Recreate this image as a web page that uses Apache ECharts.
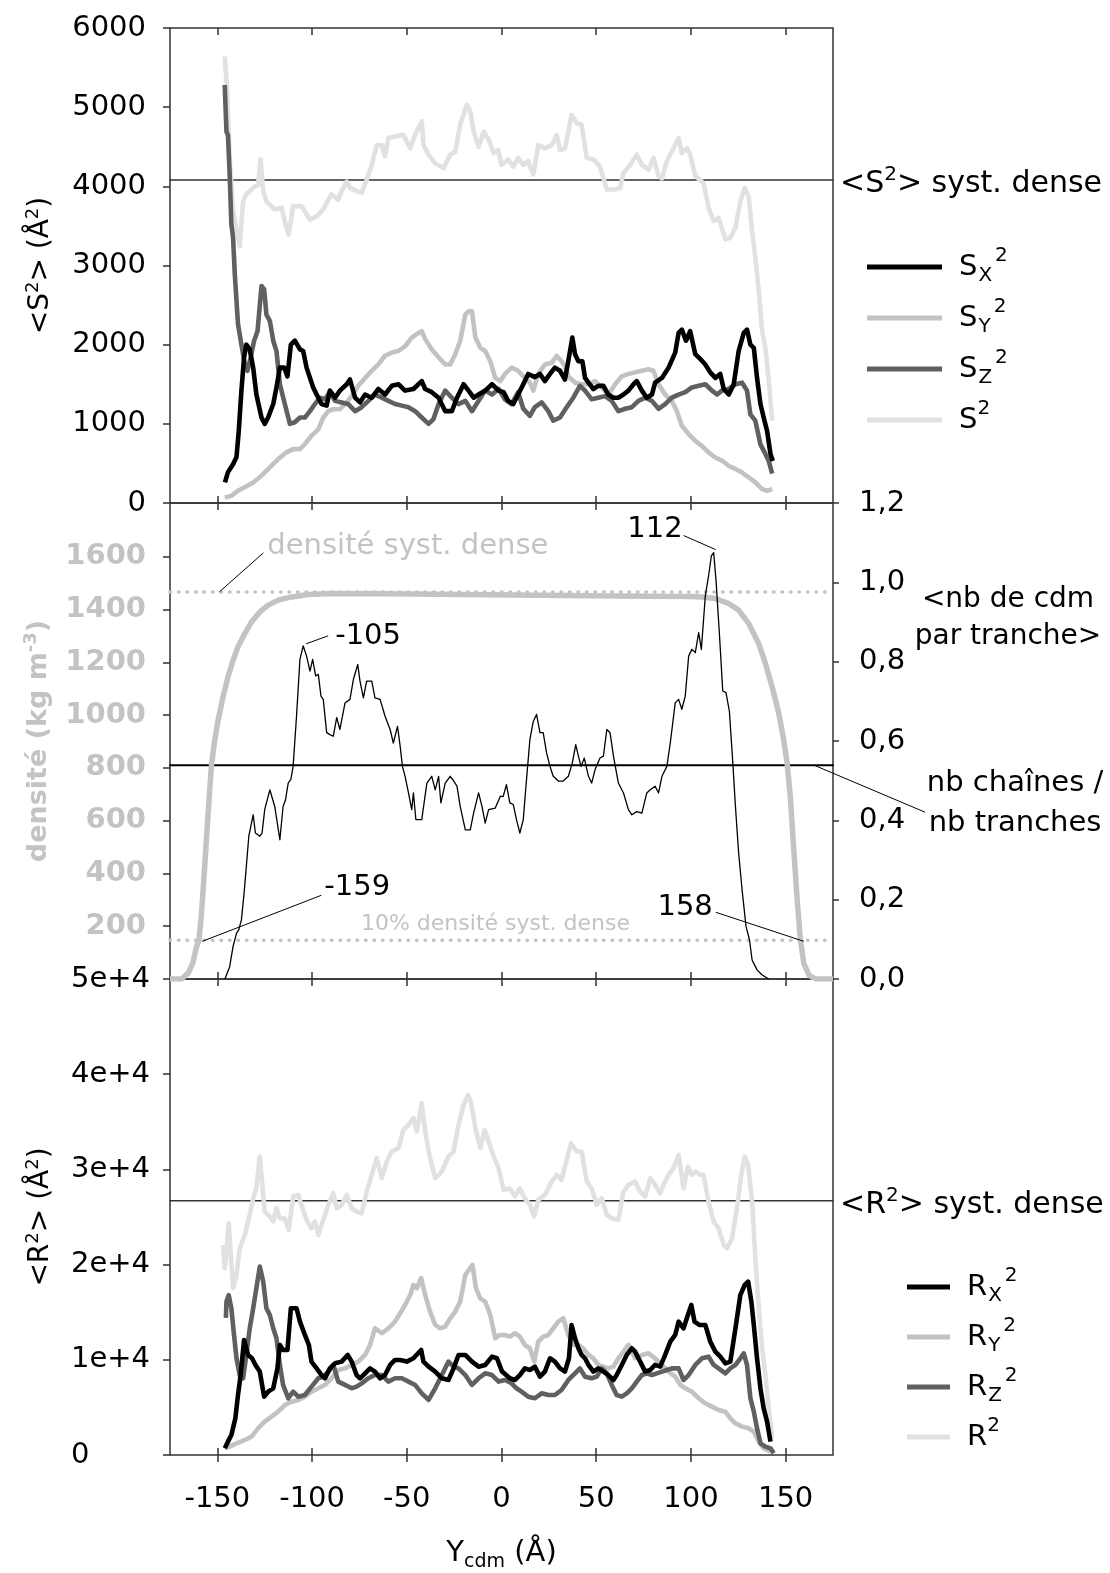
<!DOCTYPE html>
<html>
<head>
<meta charset="utf-8">
<script src="https://cdn.jsdelivr.net/npm/echarts@6/dist/echarts.min.js"></script>
<style>
html,body{margin:0;padding:0;background:#fff;}
#chart{width:1110px;height:1573px;}
</style>
</head>
<body>
<div id="chart"></div>
<script>
// valeurs
var xTicks = [-150, -100, -50, 0, 50, 100, 150];
var densTicks = [200, 400, 600, 800, 1000, 1200, 1400, 1600];
var s2Dense = 4080;
var r2Dense = 26700;
var densDense = 1467;
var dens10 = 146.7;
var chainesParTranche = 0.539;

// <S2> (A^2)
var sX2 = [[-146,260],[-144.4,390],[-141.7,490],[-139.9,580],[-138.7,910],[-137.3,1420],[-135.9,1840],[-134.7,2000],[-132.9,1940],[-131.1,1710],[-129.4,1370],[-126.7,1080],[-125,1000],[-123.2,1080],[-120.5,1250],[-118.8,1460],[-117,1710],[-114.7,1710],[-113,1600],[-111.2,2000],[-109.1,2050],[-106.4,1940],[-104.7,1920],[-102.9,1710],[-101.1,1580],[-99.4,1460],[-97.6,1370],[-95,1250],[-92.3,1230],[-90.6,1420],[-87.9,1330],[-85.3,1420],[-81.7,1500],[-80,1560],[-77.3,1330],[-74.7,1270],[-72,1370],[-68.5,1330],[-65,1440],[-61.5,1370],[-57.9,1480],[-54.4,1500],[-50.9,1420],[-46.5,1440],[-42.1,1540],[-40.3,1440],[-36.8,1400],[-33.2,1330],[-29.7,1160],[-26.2,1160],[-23.5,1330],[-20,1500],[-17.4,1420],[-14.7,1330],[-12.1,1370],[-8.6,1420],[-5,1500],[-1.5,1420],[1.1,1400],[3.5,1290],[6.2,1250],[8.8,1370],[11.5,1500],[14.1,1630],[17.6,1590],[20.3,1630],[22.9,1540],[25.6,1630],[28.2,1710],[30.9,1670],[33.5,1560],[35.6,1840],[37.4,2090],[38.8,1880],[40.6,1790],[42.7,1790],[44.1,1580],[45.9,1520],[48.5,1440],[51.1,1480],[53.8,1480],[56.4,1370],[59.1,1330],[61.7,1330],[64.4,1370],[67,1420],[69.7,1500],[71.4,1540],[74.1,1420],[76.7,1330],[79.4,1370],[81.1,1520],[84.7,1580],[88.2,1710],[91.7,1900],[93.5,2150],[95.2,2190],[97.4,2050],[99.6,2170],[102.3,1880],[104.9,1820],[107.6,1750],[110.2,1650],[112.9,1580],[115.5,1630],[117.3,1440],[120,1370],[122.6,1500],[125.2,1920],[127.9,2150],[129.6,2190],[131.4,2000],[133.2,1960],[134.9,1580],[136.7,1250],[138.4,1080],[140.2,910],[142,620],[143.2,530]];
var sY2 = [[-146.1,70],[-142.6,90],[-139.1,155],[-135.5,200],[-131.1,260],[-126.7,345],[-122.3,450],[-117.9,555],[-113.5,640],[-110,680],[-106.4,680],[-103.8,745],[-100.3,850],[-96.7,930],[-94.1,1080],[-91.4,1160],[-88.8,1185],[-85.3,1185],[-81.7,1270],[-79.1,1350],[-75.6,1480],[-72,1580],[-68.5,1670],[-65,1750],[-61.5,1860],[-57.9,1900],[-54.4,1920],[-50.9,1980],[-47.4,2090],[-43.8,2150],[-42.1,2170],[-40.3,2070],[-36.8,1940],[-33.2,1840],[-29.7,1750],[-27.1,1750],[-24.4,1880],[-21.8,2050],[-19.1,2380],[-17.4,2420],[-15.6,2420],[-13.8,2090],[-11.2,1960],[-8.6,1920],[-5.9,1790],[-3.3,1580],[-0.6,1540],[1.8,1630],[5.3,1710],[8.8,1670],[12.3,1580],[15,1520],[16.8,1420],[19.4,1630],[22.9,1750],[26.5,1770],[29.1,1860],[31.7,1790],[33.5,1730],[35.3,1600],[38.8,1520],[42.3,1500],[45.9,1500],[49.4,1540],[52.9,1460],[56.4,1370],[60,1500],[63.5,1600],[67,1630],[70.5,1650],[74.1,1670],[77.6,1690],[80.2,1670],[82.9,1500],[86.4,1370],[89.9,1290],[92.6,1160],[95.2,975],[98.8,870],[102.3,785],[105.8,720],[109.3,640],[112.9,575],[116.4,535],[119.9,470],[123.5,430],[127,385],[130.5,325],[134,260],[137.6,175],[140.2,155],[142.9,175]];
var sZ2 = [[-146.1,5280],[-145.2,4690],[-144.4,4650],[-143.5,4150],[-142.6,3520],[-141.7,3350],[-140.8,2890],[-139.1,2260],[-137.3,2000],[-135.5,1750],[-134.1,1670],[-132.4,1840],[-130.6,2050],[-128.8,2170],[-126.7,2740],[-125.3,2700],[-124.1,2380],[-122.3,2300],[-120.5,2050],[-118.8,1920],[-117,1500],[-114.4,1250],[-111.7,1000],[-109.1,1020],[-106.4,1080],[-103.8,1080],[-101.1,1160],[-98.5,1250],[-95.9,1330],[-93.2,1310],[-90.6,1400],[-87.9,1290],[-84.4,1270],[-80.9,1250],[-77.3,1160],[-73.8,1210],[-70.3,1290],[-66.8,1370],[-63.2,1330],[-59.7,1290],[-56.2,1250],[-52.6,1230],[-49.1,1210],[-45.6,1160],[-42.1,1080],[-38.5,1000],[-35.9,1060],[-33.2,1250],[-29.7,1420],[-26.2,1330],[-22.7,1250],[-19.1,1290],[-15.6,1160],[-12.1,1290],[-8.6,1420],[-5,1370],[-1.5,1440],[1.8,1310],[5.3,1250],[8.8,1400],[11.5,1190],[15,1100],[17.6,1210],[21.2,1270],[24.7,1160],[27.3,1040],[30.9,1080],[34.4,1210],[37.9,1330],[41.4,1480],[44.1,1420],[47.6,1310],[51.1,1330],[54.7,1350],[58.2,1290],[61.7,1160],[65.3,1190],[68.8,1210],[72.3,1290],[75.8,1330],[79.4,1290],[82.9,1190],[86.4,1250],[89.9,1330],[93.5,1370],[97,1400],[100.5,1460],[104.1,1480],[107.6,1500],[111.1,1420],[113.8,1370],[116.4,1420],[119.9,1440],[123.5,1500],[127,1520],[129.6,1420],[131.4,1120],[134,1040],[136.7,740],[139.3,620],[141.1,530],[142.9,370]];
var s2 = [[-146.1,5640],[-144.9,5240],[-143.5,4360],[-141.7,3690],[-138.2,3240],[-136.4,3810],[-134.7,3900],[-131.1,3980],[-128.5,4020],[-127.2,4340],[-125.8,3940],[-124.1,3810],[-119.7,3710],[-116.1,3730],[-114.4,3560],[-112.3,3390],[-110,3750],[-105.6,3750],[-101.1,3580],[-97.6,3620],[-94.1,3710],[-91.4,3830],[-89.7,3900],[-86.2,3830],[-84.4,3940],[-81.7,4060],[-80,3980],[-76.5,3940],[-73.8,3920],[-71.2,4080],[-68.5,4270],[-65.9,4520],[-63.2,4520],[-61.5,4380],[-59.7,4610],[-56.2,4630],[-51.8,4650],[-48.2,4480],[-45.6,4650],[-42.1,4820],[-41.2,4520],[-38.5,4400],[-35,4290],[-30.6,4230],[-27.1,4400],[-24.4,4440],[-21.8,4780],[-18.3,5030],[-16.5,4950],[-14.7,4690],[-12.1,4500],[-9.4,4690],[-6.8,4590],[-4.1,4420],[-1.8,4460],[0,4270],[3.5,4340],[6.2,4250],[8.8,4360],[11.5,4270],[14.1,4320],[16.8,4150],[19.4,4520],[22.9,4480],[26.5,4520],[29.1,4650],[30.9,4460],[33.5,4480],[37,4900],[39.7,4800],[42.3,4780],[45,4360],[48.5,4340],[52,4250],[55.6,3960],[59.1,3960],[62.6,3980],[64.4,4170],[67.9,4270],[71.4,4400],[74.1,4270],[77.6,4210],[80.2,4360],[82.9,4130],[84.7,4100],[87.3,4320],[90.8,4480],[93.5,4610],[95.2,4420],[97.9,4480],[99.6,4400],[102.3,4130],[106.7,4040],[109.3,3730],[112,3560],[114.6,3600],[118.2,3330],[120.8,3350],[123.5,3480],[126.1,3810],[128.4,3980],[130.5,3870],[132.3,3430],[134,3100],[135.8,2680],[137.6,2170],[139.3,1960],[141.1,1540],[142.9,1040]];

// densite (kg m-3) et <nb de cdm par tranche>
var densite = [[-175,0],[-169,0],[-165.5,21],[-163,59],[-161,122],[-159.7,148],[-158.5,236],[-156.7,425],[-155,615],[-153.2,804],[-151.4,905],[-149.6,981],[-147,1069],[-144.4,1145],[-141.7,1208],[-139.1,1259],[-135.5,1309],[-132,1353],[-127.6,1391],[-123.2,1417],[-117.9,1436],[-110.8,1448],[-102,1457],[-90,1461],[-60,1460],[-20,1457],[20,1454],[60,1452],[100,1450],[105.8,1448],[112.9,1442],[119.9,1423],[125.2,1398],[130.5,1347],[135.8,1271],[139.3,1196],[142.9,1107],[146.4,1006],[149,905],[150.8,817],[152.6,678],[154.3,489],[156.1,299],[157.8,148],[159.6,59],[162.3,15],[165.8,0],[175,0]];
var nbCdm = [[-146,0],[-145.2,0.005],[-143.5,0.031],[-141.7,0.082],[-139.9,0.115],[-138.7,0.124],[-137.3,0.149],[-135.9,0.216],[-134.7,0.284],[-133.4,0.36],[-132.4,0.36],[-131.1,0.414],[-129.9,0.368],[-127.6,0.36],[-126.4,0.368],[-125,0.427],[-122.3,0.477],[-119.7,0.435],[-117,0.351],[-115.3,0.435],[-114,0.452],[-112.6,0.494],[-111.2,0.503],[-110,0.536],[-108.2,0.663],[-106.4,0.806],[-104.7,0.84],[-102.9,0.814],[-101.1,0.776],[-99.7,0.806],[-98.1,0.764],[-96.7,0.768],[-95.3,0.713],[-94.1,0.705],[-92.3,0.621],[-90.6,0.616],[-88.8,0.612],[-87,0.659],[-85.3,0.629],[-82.6,0.696],[-80,0.705],[-78.2,0.755],[-75.9,0.793],[-74.7,0.751],[-72.9,0.709],[-71.2,0.751],[-68.5,0.751],[-66.8,0.709],[-64.1,0.705],[-61.5,0.663],[-58.8,0.629],[-57.1,0.595],[-54.9,0.637],[-53.5,0.587],[-52.3,0.536],[-50.9,0.511],[-49.1,0.469],[-47.4,0.427],[-46.5,0.469],[-45.2,0.402],[-42.1,0.402],[-39.4,0.494],[-36.8,0.511],[-35,0.477],[-33.2,0.511],[-32,0.444],[-29.7,0.494],[-27.1,0.511],[-25.8,0.503],[-23.5,0.486],[-21.8,0.435],[-19.1,0.376],[-16.5,0.376],[-14.7,0.419],[-12.1,0.469],[-10.3,0.435],[-8.6,0.393],[-6.8,0.427],[-3.3,0.431],[-0.6,0.461],[0.9,0.46],[2.6,0.49],[4.4,0.444],[6.2,0.44],[7.9,0.402],[9.7,0.368],[11.5,0.402],[13.2,0.503],[15,0.604],[16.8,0.65],[18.5,0.667],[20.3,0.621],[22,0.621],[23.8,0.57],[25.6,0.536],[27.3,0.511],[30,0.499],[32.6,0.499],[35.3,0.511],[37.4,0.545],[39.2,0.591],[40.6,0.562],[42,0.536],[43.7,0.557],[45.9,0.511],[47.6,0.494],[49.4,0.528],[52,0.557],[53.8,0.562],[55.6,0.629],[57.3,0.621],[59.1,0.562],[61.7,0.494],[64.4,0.469],[67,0.427],[68.8,0.414],[71.4,0.422],[74.1,0.418],[76.7,0.469],[78.5,0.477],[81.1,0.486],[82.9,0.469],[84.7,0.511],[87.3,0.536],[89.1,0.595],[91.7,0.696],[93.5,0.705],[95.2,0.68],[97,0.713],[98.8,0.814],[100.5,0.831],[102.3,0.823],[104.1,0.873],[105.5,0.831],[107.6,0.966],[109.3,1.016],[110.8,1.067],[112,1.075],[113.2,1.008],[115,0.873],[116.8,0.726],[118.5,0.722],[120.3,0.675],[122,0.553],[123.5,0.435],[125.2,0.317],[127,0.225],[129.1,0.132],[130.9,0.099],[132.3,0.048],[134.9,0.023],[137.6,0.01],[141.1,0]];

// <R2> (A^2)
var rX2 = [[-146.1,700],[-144.4,1400],[-142.6,2100],[-140.5,3850],[-139.1,6300],[-137.7,8400],[-135.9,12080],[-135,11900],[-133.8,10510],[-131.7,10160],[-129.9,9460],[-127.6,8760],[-125.3,6130],[-123.2,6650],[-120.5,7000],[-118.3,9100],[-117,11560],[-115.3,11030],[-113,11030],[-111.2,15410],[-108.2,15410],[-106.4,14010],[-103.8,12610],[-101.7,11560],[-100.3,9810],[-97.6,9100],[-95,8400],[-93.2,8050],[-90.6,9100],[-87.9,9630],[-84.4,9810],[-81.2,10510],[-79.1,9810],[-76.5,8400],[-74.7,8050],[-72,8580],[-69.4,9100],[-66.8,8760],[-64.1,8050],[-61.5,8400],[-58.8,9460],[-56.2,9980],[-53.5,9980],[-50,9810],[-46.5,10160],[-42.4,11030],[-41.2,9810],[-38.5,9280],[-35,8760],[-31.5,8060],[-28,7880],[-25.3,9100],[-22.7,10510],[-19.1,10510],[-15.6,9810],[-12.1,9280],[-8.6,9460],[-5,10330],[-2.4,10160],[0.3,8760],[4.4,8060],[7.1,7880],[9.7,8400],[12.3,9100],[15,8930],[17.6,9280],[20.3,8230],[22.9,8760],[25.6,10160],[28.2,9810],[30.9,9100],[33.5,8760],[35.6,10160],[37,13660],[38.8,12260],[40.6,11210],[42.3,10510],[44.1,10160],[45.9,9460],[48.5,8760],[51.1,9100],[53.8,8760],[56.4,8400],[59.1,7880],[60.8,8400],[63.5,9460],[66.1,10510],[68.8,11210],[70.5,10860],[73.2,9810],[75.8,8760],[78.5,8930],[81.1,9460],[83.8,9280],[86.4,10510],[89.1,11910],[91.7,12610],[93.5,14010],[96.1,13310],[98.4,14710],[100.2,15760],[101.9,14010],[104.4,13660],[107.6,13660],[110.2,11910],[112.9,10860],[115.5,10330],[118.2,9630],[120.8,9810],[123.5,13310],[126.1,16820],[128.4,17860],[130.2,18210],[131.9,16110],[133.2,13660],[134.9,10160],[136.7,7000],[138.4,4900],[140.2,3500],[142,1400]];
var rY2 = [[-146.1,700],[-143.5,880],[-139.9,1230],[-135.5,1580],[-132,1930],[-128.5,2800],[-125,3500],[-121.4,4030],[-117.9,4550],[-114.4,5250],[-110.8,5600],[-107.3,5780],[-103.8,6130],[-100.3,6650],[-96.7,7010],[-93.2,7360],[-89.7,8060],[-86.2,8930],[-82.6,9100],[-79.1,9460],[-75.6,9810],[-72,10510],[-69.4,11560],[-66.8,13310],[-63.2,12790],[-59.7,13310],[-56.2,14010],[-53.5,14890],[-50.9,15760],[-48.2,16810],[-46.5,17860],[-44.7,17520],[-42.4,18570],[-40.3,16810],[-37.7,15060],[-35,13660],[-32.4,13310],[-29.7,13480],[-27.1,14360],[-24.4,15060],[-21.8,16110],[-19.1,18920],[-16.5,19620],[-15.3,19970],[-13.5,17520],[-11.2,16460],[-8.6,16110],[-5.9,14710],[-3.3,12260],[-0.9,12610],[1.8,12610],[4.4,12440],[7.1,12790],[9.7,12440],[12.3,11560],[15,11210],[17.3,9810],[19.4,11910],[22,12440],[24.7,12610],[27.3,13310],[30,14010],[32.6,14360],[35.3,12610],[37.9,11560],[40.6,11560],[43.2,11210],[45.9,10510],[48.5,10160],[51.1,9460],[53.8,9280],[56.4,9100],[59.1,9280],[61.7,10160],[64.4,10860],[67,11560],[70.5,10160],[74.1,10510],[77.6,10680],[81.1,10160],[84.7,9460],[88.2,8760],[91.7,8230],[94.4,7360],[97,7010],[100.5,6650],[104.1,5960],[107.6,5430],[111.1,5080],[114.6,4730],[118.2,4550],[120.8,3850],[123.5,3330],[127,2980],[130.5,2800],[133.2,2450],[135.8,1400],[138.4,700],[142,350]];
var rZ2 = [[-145.5,14400],[-145.2,16100],[-144,16800],[-142.6,15400],[-141.2,12600],[-139.9,10160],[-138.2,8400],[-136.4,8060],[-134.7,10510],[-132.9,13310],[-131.1,15410],[-129.4,17520],[-127.6,19790],[-125.8,18220],[-124.1,15410],[-122.3,14710],[-120.5,13310],[-118.8,12260],[-117,9460],[-115.3,7360],[-112.6,5960],[-110,6650],[-107.3,6130],[-103.8,6300],[-100.3,7180],[-96.7,8060],[-94.1,8230],[-91.4,8760],[-88.8,9460],[-86.2,7710],[-82.6,7360],[-79.1,7010],[-76.5,7180],[-73.8,7530],[-70.3,8060],[-66.8,8400],[-63.2,8400],[-59.7,7710],[-56.2,8060],[-52.6,8060],[-49.1,7710],[-45.6,7360],[-42.1,6480],[-38.5,5780],[-35,7010],[-31.5,8400],[-28,9810],[-25.3,9280],[-22.7,9100],[-19.1,8400],[-15.6,7360],[-12.1,8060],[-8.6,8580],[-5,8400],[-1.5,7710],[1.8,7880],[5.3,7530],[7.9,7010],[10.6,6650],[14.1,6130],[17.6,5960],[21.2,6480],[24.7,6300],[28.2,6300],[31.7,6830],[35.3,7880],[38.8,8580],[41.4,9100],[44.1,8230],[47.6,8060],[50.3,8230],[52.9,9100],[55.6,8580],[58.2,7360],[60.8,6300],[63.5,6130],[66.1,6480],[68.8,7010],[71.4,7710],[74.1,8400],[76.7,8580],[79.4,8400],[82,8580],[84.7,8760],[87.3,8930],[89.9,9100],[93.5,9100],[96.1,7880],[98.8,8400],[102.3,9460],[105.8,10160],[109.3,10330],[112,9460],[114.6,9100],[118.2,8580],[120.8,9100],[123.5,9460],[126.1,10160],[127.9,10680],[129.6,9460],[131.4,5960],[133.2,4550],[134.9,2800],[136.7,1230],[139.3,880],[142,700],[143.7,180]];
var r2 = [[-147,22070],[-146.1,19620],[-145.2,21370],[-144,24350],[-142.9,21020],[-141.7,17520],[-139.9,18920],[-138.2,21720],[-135.5,23120],[-132.9,25220],[-131.1,26970],[-129.4,28020],[-127.6,31350],[-126.4,28720],[-125,25570],[-122.3,25050],[-120.5,24520],[-118.8,25920],[-117,24870],[-114.4,24870],[-112.3,23640],[-110,27150],[-107.3,27320],[-105.6,26270],[-102.9,24700],[-100.3,23820],[-98.5,24520],[-96.7,23120],[-94.1,24700],[-91.4,26270],[-88.8,27500],[-87,25920],[-84.4,26270],[-81.7,27320],[-79.1,25920],[-76.5,25570],[-73.8,25400],[-71.2,27670],[-68.5,29430],[-65.9,31180],[-63.2,29080],[-60.6,30830],[-57.9,31880],[-54.4,32230],[-51.8,34150],[-49.1,34680],[-46.5,35380],[-44.7,33980],[-42.1,36960],[-40.3,33980],[-37.7,31180],[-35,29080],[-31.5,29780],[-28,31350],[-25.3,31880],[-22.7,34680],[-20,36780],[-17.7,37830],[-16,36960],[-13.8,34330],[-11.2,32230],[-8.9,34150],[-6.8,32930],[-4.1,31350],[-1.5,30130],[1.1,27850],[4.4,27990],[7.1,27150],[9.7,27990],[12.3,26970],[15,26270],[17.3,25050],[19.4,26800],[22.9,27320],[26.5,28720],[29.1,29430],[31.7,28900],[34.4,31000],[36.7,32750],[39.7,31880],[42.3,31880],[45,28720],[47.6,28020],[50.3,26270],[52.9,26970],[55.6,25220],[58.2,24870],[61.7,24700],[64.4,27670],[67,28380],[70.5,28720],[73.2,27670],[75.8,27150],[78.5,29080],[81.1,28380],[83.8,27500],[85.5,28380],[88.2,29430],[90.8,30130],[93.5,31530],[96.1,28020],[98.4,30300],[100.5,29430],[102.6,29780],[104.9,29430],[106.7,29430],[109.3,26620],[112,24520],[114.6,23820],[117.3,22070],[119,21720],[121.7,22770],[124.3,25920],[126.6,29430],[128.4,31350],[130.2,30480],[132.3,26620],[134,20670],[135.8,15410],[137.6,11210],[139.3,8400],[141.1,4900],[142.9,1750]];

var legendLabels = {
    SX2: 'S{sub|X}{sup|2}', SY2: 'S{sub|Y}{sup|2}', SZ2: 'S{sub|Z}{sup|2}', S2: 'S{sup2|2}',
    RX2: 'R{sub|X}{sup|2}', RY2: 'R{sub|Y}{sup|2}', RZ2: 'R{sub|Z}{sup|2}', R2: 'R{sup2|2}'
};

var FONT = 'DejaVu Sans';
var TICK = 29;
var cX = '#000000', cY = '#c2c2c2', cZ = '#606060', cT = '#e1e1e1', cAxe = '#333333';
var LW = 4.6;
var supRich = {
    sup: {fontSize: 18, fontFamily: FONT, color: '#000', padding: [0, 0, 16, 0]},
    sub: {fontSize: 18, fontFamily: FONT, color: '#000', padding: [14, 0, 0, 0]}
};

var chart = echarts.init(document.getElementById('chart'));

function plain(v) { return String(v); }
function xAx(grid, pos, extra) {
    return Object.assign({
        type: 'value', gridIndex: grid, position: pos, min: -175, max: 175,
        axisLine: {show: false, onZero: false},
        splitLine: {show: false},
        axisTick: {show: true, inside: true, length: 7, customValues: xTicks, lineStyle: {color: cAxe, width: 1.5}},
        axisLabel: {show: false}
    }, extra || {});
}
function ln(name, data, xi, yi, color, width, extra) {
    return Object.assign({
        type: 'line', name: name, data: data, xAxisIndex: xi, yAxisIndex: yi,
        symbol: 'none', showSymbol: false, silent: true,
        lineStyle: {color: color, width: width, join: 'round'}, itemStyle: {color: color}
    }, extra || {});
}
function hline(yv, xi, yi, color, width, type) {
    return ln('', [[-175, yv], [175, yv]], xi, yi, color, width,
        {lineStyle: {color: color, width: width, type: type || 'solid', cap: 'round'}, z: 1});
}

var legendStyle = {
    fontSize: 29, fontFamily: FONT, color: '#000', padding: [0, 0, 0, 12],
    rich: {
        sub: {fontSize: 20, fontFamily: FONT, color: '#000', padding: [18, 0, 0, 1]},
        sup: {fontSize: 20, fontFamily: FONT, color: '#000', padding: [0, 0, 22, 3]},
        sup2: {fontSize: 20, fontFamily: FONT, color: '#000', padding: [0, 0, 22, 0]}
    }
};

option = {
    animation: false,
    backgroundColor: '#ffffff',
    textStyle: {fontFamily: FONT},
    grid: [
        {left: 170, right: 277, top: 28, height: 475, show: true, borderColor: cAxe, borderWidth: 1.5},
        {left: 170, right: 277, top: 503, height: 476, show: true, borderColor: cAxe, borderWidth: 1.5},
        {left: 170, right: 277, top: 979, height: 476, show: true, borderColor: cAxe, borderWidth: 1.5}
    ],
    xAxis: [
        xAx(0, 'bottom'),
        xAx(0, 'top'),
        xAx(1, 'bottom'),
        xAx(1, 'top'),
        xAx(2, 'bottom', {
            axisTick: {show: true, inside: false, length: 7, customValues: xTicks, lineStyle: {color: cAxe, width: 1.5}},
            axisLabel: {show: true, customValues: xTicks, fontSize: TICK, color: '#000', margin: 30, fontFamily: FONT},
            name: 'Y{sub|cdm} (Å)', nameLocation: 'middle', nameGap: 80,
            nameTextStyle: {fontSize: 29, color: '#000', fontFamily: FONT, rich: {
                sub: {fontSize: 19, fontFamily: FONT, color: '#000', padding: [18, 0, 0, 0]}}}
        }),
        xAx(2, 'top'),
        xAx(2, 'bottom')
    ],
    yAxis: [
        {
            type: 'value', gridIndex: 0, min: 0, max: 6000, interval: 1000,
            axisLine: {show: false, onZero: false}, splitLine: {show: false},
            axisTick: {show: true, length: 7, lineStyle: {color: cAxe, width: 1.5}},
            axisLabel: {fontSize: TICK, color: '#000', margin: 24, fontFamily: FONT, formatter: plain},
            name: '<S{sup|2}> (Å{sup|2})', nameLocation: 'middle', nameGap: 112,
            nameTextStyle: {fontSize: 28, color: '#000', fontFamily: FONT, rich: supRich}
        },
        {
            type: 'value', gridIndex: 1, min: 0, max: 1804,
            axisLine: {show: false, onZero: false}, splitLine: {show: false},
            axisTick: {show: true, length: 7, customValues: densTicks, lineStyle: {color: cAxe, width: 1.5}},
            axisLabel: {customValues: densTicks, fontSize: TICK, fontWeight: 'bold', color: '#c3c3c3', margin: 24, fontFamily: FONT, formatter: plain},
            name: 'densité (kg m{sup|-3})', nameLocation: 'middle', nameGap: 114,
            nameTextStyle: {fontSize: 27, fontWeight: 'bold', color: '#c3c3c3', fontFamily: FONT, rich: {
                sup: {fontSize: 18, fontWeight: 'bold', color: '#c3c3c3', fontFamily: FONT, padding: [0, 0, 16, 0]}}}
        },
        {
            type: 'value', gridIndex: 1, position: 'right', min: 0, max: 1.2, interval: 0.2,
            axisLine: {show: false, onZero: false}, splitLine: {show: false},
            axisTick: {show: true, length: 6, lineStyle: {color: cAxe, width: 1.5}},
            axisLabel: {fontSize: TICK, color: '#000', margin: 26, fontFamily: FONT,
                formatter: function (v) { return v.toFixed(1).replace('.', ','); }}
        },
        {
            type: 'value', gridIndex: 2, min: 0, max: 50000, interval: 10000,
            axisLine: {show: false, onZero: false}, splitLine: {show: false},
            axisTick: {show: true, length: 7, lineStyle: {color: cAxe, width: 1.5}},
            axisLabel: {fontSize: TICK, color: '#000', margin: 99, align: 'left', fontFamily: FONT,
                formatter: function (v) { return v === 0 ? '0' : (v / 10000) + 'e+4'; }},
            name: '<R{sup|2}> (Å{sup|2})', nameLocation: 'middle', nameGap: 112,
            nameTextStyle: {fontSize: 28, color: '#000', fontFamily: FONT, rich: supRich}
        }
    ],
    legend: [
        {
            data: ['SX2', 'SY2', 'SZ2', 'S2'], orient: 'vertical', left: 862, top: 241,
            itemWidth: 75, itemHeight: 5, itemGap: 11, icon: 'rect', selectedMode: false,
            formatter: function (n) { return legendLabels[n]; }, textStyle: legendStyle
        },
        {
            data: ['RX2', 'RY2', 'RZ2', 'R2'], orient: 'vertical', left: 902, top: 1261,
            itemWidth: 43, itemHeight: 5, itemGap: 10, icon: 'rect', selectedMode: false,
            formatter: function (n) { return legendLabels[n]; }, textStyle: legendStyle
        }
    ],
    series: [
        hline(s2Dense, 0, 0, cAxe, 1.5),
        ln('S2', s2, 0, 0, cT, LW),
        ln('SY2', sY2, 0, 0, cY, LW),
        ln('SZ2', sZ2, 0, 0, cZ, LW),
        ln('SX2', sX2, 0, 0, cX, LW),

        hline(densDense, 2, 1, '#c3c3c3', 3.5, [0.5, 8]),
        hline(dens10, 2, 1, '#c3c3c3', 3.5, [0.5, 8]),
        hline(chainesParTranche, 2, 2, '#000', 2),
        ln('densite', densite, 2, 1, '#c3c3c3', 5.5),
        ln('nbCdm', nbCdm, 2, 2, '#000', 1.3),

        hline(r2Dense, 4, 3, cAxe, 1.5),
        ln('R2', r2, 4, 3, cT, LW),
        ln('RY2', rY2, 4, 3, cY, LW),
        ln('RZ2', rZ2, 4, 3, cZ, LW),
        ln('RX2', rX2, 4, 3, cX, LW)
    ]
};
chart.setOption(option);

// textes et traits de rappel
function px(xi, yi, pt) { return chart.convertToPixel({xAxisIndex: xi, yAxisIndex: yi}, pt); }
function txt(x, y, text, o) {
    o = o || {};
    return {type: 'text', x: x, y: y, silent: true, z: 100, style: {
        text: text, fill: o.fill || '#000', fontSize: o.size || 28, fontFamily: FONT,
        textAlign: o.align || 'left', textVerticalAlign: 'middle', lineHeight: o.lh || 30,
        rich: o.rich}};
}
function seg(a, dx1, dy1, dx2, dy2) {
    return {type: 'line', silent: true, z: 100, shape: {x1: a[0] + dx1, y1: a[1] + dy1, x2: a[0] + dx2, y2: a[1] + dy2},
        style: {stroke: '#000', lineWidth: 1}};
}
var richTxt = {sup: {fontSize: 20, fontFamily: FONT, fill: '#000', padding: [0, 0, 18, 0]}};

var pS = px(0, 0, [175, s2Dense]);
var pR = px(4, 3, [175, r2Dense]);
var p105 = px(2, 2, [-104.7, 0.84]);
var p112 = px(2, 2, [112, 1.075]);
var p159 = px(2, 1, [-159.5, dens10]);
var p158 = px(2, 1, [158, dens10]);
var pDd = px(2, 1, [-150, densDense]);
var p10 = px(2, 1, [0, dens10]);
var pNb = px(2, 2, [165, chainesParTranche]);
var pTop = px(2, 2, [175, 1.0]);

var g = [
    txt(pS[0] + 7, pS[1] + 4, '<S{sup|2}> syst. dense', {rich: richTxt, size: 30}),
    txt(pR[0] + 7, pR[1] + 4, '<R{sup|2}> syst. dense', {rich: richTxt, size: 30}),
    seg(p105, 3, -2, 25, -10), txt(p105[0] + 32, p105[1] - 9, '-105', {size: 29}),
    seg(p112, 2, -3, -30, -17), txt(p112[0] - 31, p112[1] - 23, '112', {align: 'right', size: 29}),
    seg(p159, 3, 1, 122, -45), txt(p159[0] + 125, p159[1] - 53, '-159', {size: 29}),
    seg(p158, 3, 1, -85, -28), txt(p158[0] - 88, p158[1] - 33, '158', {align: 'right', size: 29}),
    seg(pDd, 2, 0, 46, -39), txt(pDd[0] + 50, pDd[1] - 45, 'densité syst. dense', {fill: '#c3c3c3', size: 29}),
    txt(p10[0] - 6, p10[1] - 16, '10% densité syst. dense', {fill: '#c3c3c3', size: 22, align: 'center'}),
    seg(pNb, 0, 0, 111, 47),
    txt(pNb[0] + 201, pNb[1] + 38, 'nb chaînes /\nnb tranches', {align: 'center', lh: 40, size: 29}),
    txt(pTop[0] + 175, pTop[1] + 36, '<nb de cdm\npar tranche>', {align: 'center', lh: 37, size: 28})
];
chart.setOption({graphic: g});
</script>
</body>
</html>
